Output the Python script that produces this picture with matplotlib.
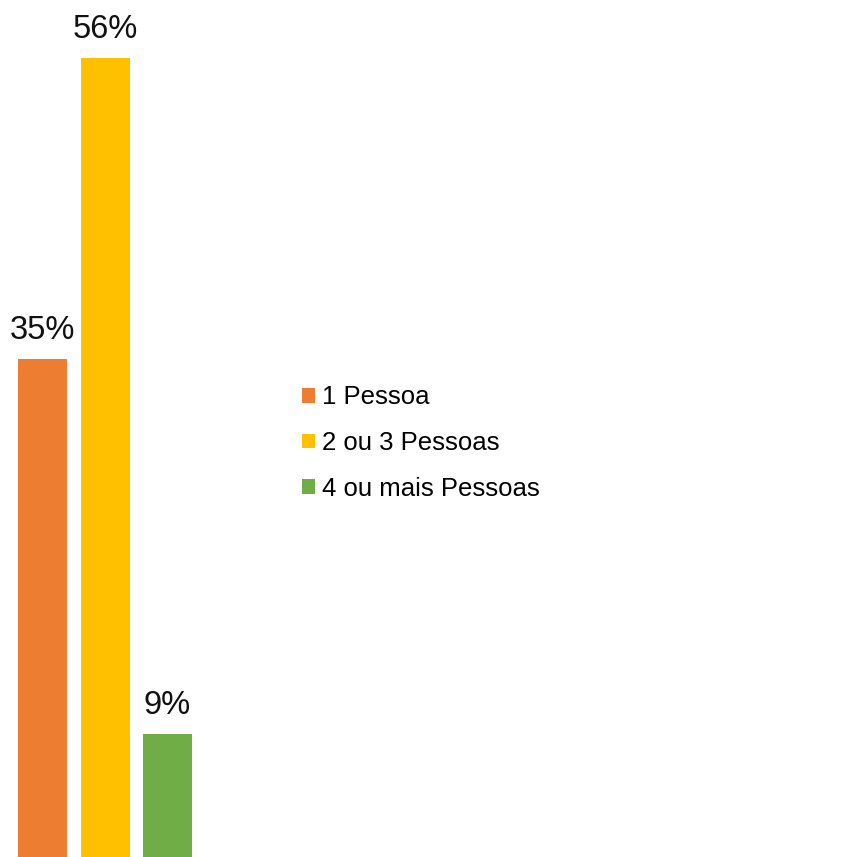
import matplotlib
matplotlib.use('Agg')
import matplotlib.pyplot as plt
from matplotlib.patches import Patch

categories = ["1 Pessoa", "2 ou 3 Pessoas", "4 ou mais Pessoas"]
values = [34.9, 56.0, 8.6]
colors = ["#ED7D31", "#FFC000", "#70AD47"]

plt.rcParams['font.family'] = ['Liberation Sans', 'DejaVu Sans']

W, H = 853, 857
fig = plt.figure(figsize=(W / 100, H / 100), dpi=100)
ax = fig.add_axes([0, 0, 1, 1])
ax.axis('off')

# pixel mapping: bar pitch 62.5 px, first centre at 42.5 px, 14.27 px per percent
ax.set_xlim(-42.5 / 62.5, (W - 42.5) / 62.5)
ax.set_ylim(0, H / 14.27)

xs = range(len(values))
bars = ax.bar(xs, values, width=49 / 62.5, color=colors)

for b, v in zip(bars, values):
    ax.annotate(f"{v:.0f}%", (b.get_x() + b.get_width() / 2, v),
                xytext=(0, 9.5), textcoords='offset points',
                ha='center', va='bottom', fontsize=23.5, color='#111111')

handles = [Patch(facecolor=c, edgecolor='none') for c in colors]
fig.legend(handles, categories, loc='upper left',
           bbox_to_anchor=(292 / W, 1 - 375 / H),
           frameon=False, fontsize=18.5, handlelength=0.51, handleheight=0.51,
           handletextpad=0.27, labelspacing=0.85, borderaxespad=0)

fig.savefig("out.png", dpi=100, facecolor='white')
